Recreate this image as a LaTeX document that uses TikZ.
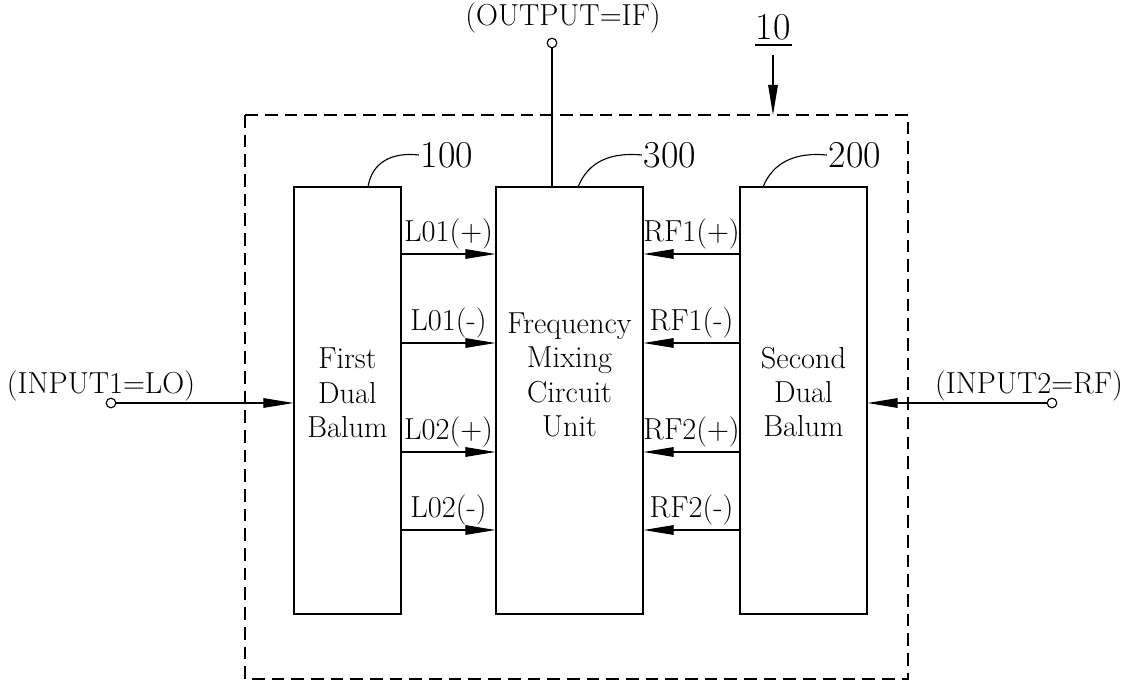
\documentclass[tikz,border=0pt]{standalone}
\usetikzlibrary{arrows.meta}

\begin{document}
\begin{tikzpicture}[x=0.025cm, y=-0.025cm, line width=0.8pt,
  every node/.style={font=\fontsize{21.6}{24.5}\selectfont},
  block/.style={draw, rectangle, minimum height=10.675cm, inner sep=0pt},
  sig/.style={-{Triangle[length=7.5mm,width=2.4mm]}},
  port/.style={draw, circle, minimum size=2.4mm, inner sep=0pt},
  refnum/.style={font=\fontsize{27}{30}\selectfont, inner sep=1pt},
  iolabel/.style={font=\fontsize{21.6}{25}\selectfont}]
  \useasboundingbox (0,0) rectangle (1123,682);

  % System frame 10
  \draw[dash pattern=on 9pt off 5pt] (245,115) rectangle (908,679);
  \coordinate (frametop) at (773,115);
  \node[refnum] (n10) at (773,27) {10};
  \draw (755,45) -- (792,45);
  \draw[sig] (773,55) -- (frametop);

  % Blocks
  \node[block, minimum width=2.675cm] (b100) at (347.5,400.5) {};
  \node[block, minimum width=3.675cm] (b300) at (569.5,400.5) {};
  \node[block, minimum width=3.175cm] (b200) at (803.5,400.5) {};
  \node[align=center] (t100) at (347.5,393) {First\\Dual\\Balum};
  \node[align=center] (t300) at (569.5,375) {Frequency\\Mixing\\Circuit\\Unit};
  \node[align=center] (t200) at (803.5,392) {Second\\Dual\\Balum};

  % Reference numbers
  \node[refnum] (n100) at (447,155) {100};
  \node[refnum] (n300) at (670,155) {300};
  \node[refnum] (n200) at (855,155) {200};
  \draw (368,187) .. controls (372,162) and (392,152) .. (n100.west);
  \draw (578,187) .. controls (588,162) and (610,152) .. (n300.west);
  \draw (763,187) .. controls (773,162) and (796,152) .. (n200.west);

  % Differential signals
  \foreach \yy/\lname/\rname in {254/L01(+)/RF1(+), 343/L01(-)/RF1(-),
                                 452/L02(+)/RF2(+), 530/L02(-)/RF2(-)} {
    \draw[sig] (b100.east |- 0,\yy) -- node[above] {\lname} (b300.west |- 0,\yy);
    \draw[sig] (b200.west |- 0,\yy) -- node[above] {\rname} (b300.east |- 0,\yy);
  }

  % Inputs and output
  \node[port] (in1) at (111,403) {};
  \node[port] (in2) at (1052,403) {};
  \node[port] (out) at (552,43) {};
  \node[iolabel] (in1lab) at (101,386) {(INPUT1=LO)};
  \node[iolabel] (in2lab) at (1029,386) {(INPUT2=RF)};
  \node[iolabel] (outlab) at (563,18) {(OUTPUT=IF)};
  \draw[sig] (in1) -- (b100.west |- in1);
  \draw[sig] (in2) -- (b200.east |- in2);
  \draw (out) -- (out |- b300.north);
\end{tikzpicture}
\end{document}
